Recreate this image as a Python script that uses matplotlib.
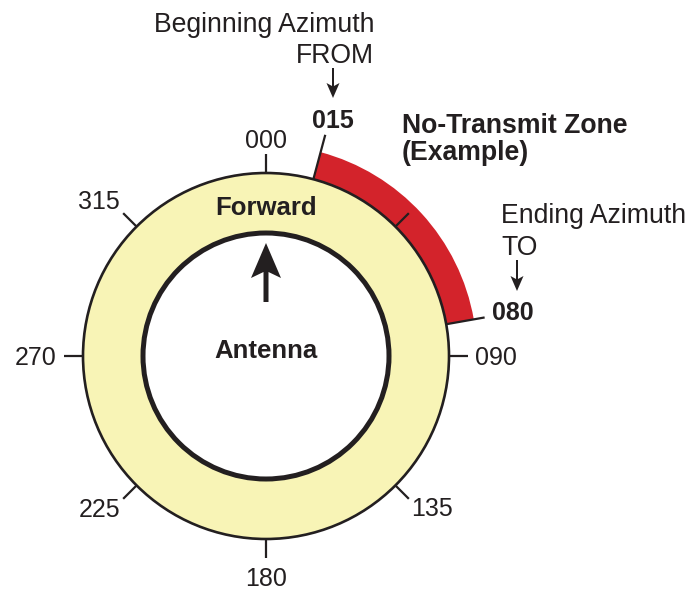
import numpy as np
import matplotlib
matplotlib.use("Agg")
import matplotlib.pyplot as plt
from matplotlib.patches import Circle, Wedge, Polygon

# ---- data ----
tick_azimuths = [0, 45, 90, 135, 180, 225, 270, 315]
tick_labels = ["000", "", "090", "135", "180", "225", "270", "315"]
zone_start = 15          # Beginning Azimuth FROM
zone_end = 80            # Ending Azimuth TO
zone_start_label = "015"
zone_end_label = "080"
zone_title = ["No-Transmit Zone", "(Example)"]
begin_text = ["Beginning Azimuth", "FROM"]
end_text = ["Ending Azimuth", "TO"]
ring_label = "Forward"
center_label = "Antenna"

# ---- style / layout ----
W, H = 687, 594
CX, CY = 266, 356
R_OUT, R_IN, R_ZONE = 183, 123, 211
YELLOW = "#F8F4B6"
RED = "#D3232B"
INK = "#231F20"
FONT = "Liberation Sans"
plt.rcParams['font.family'] = [FONT, 'DejaVu Sans']
# label centre distance from ring centre (horizontal, vertical) per tick
LABEL_R = {0: (0, 217), 90: (230, 0), 135: (235, 214), 180: (0, 221),
           225: (236, 215), 270: (230, 0), 315: (236, 221)}

fig = plt.figure(figsize=(W / 100, H / 100), dpi=100)
ax = fig.add_axes([0, 0, 1, 1])
ax.set_xlim(0, W)
ax.set_ylim(H, 0)
ax.set_aspect('equal')
ax.axis('off')


def pt(az, r):
    a = np.radians(az)
    return CX + r * np.sin(a), CY - r * np.cos(a)


def down_arrow(x, y0, y1, shaft, head_w, head_l, notch, z=5):
    """vertical arrow from y0 to tip y1 (in pixel coords, y grows downward)"""
    d = 1 if y1 > y0 else -1
    hb = y1 - d * head_l
    nb = y1 - d * (head_l - notch)
    poly = [(x - shaft / 2, y0), (x - shaft / 2, nb), (x - head_w / 2, hb),
            (x, y1), (x + head_w / 2, hb), (x + shaft / 2, nb), (x + shaft / 2, y0)]
    ax.add_patch(Polygon(poly, closed=True, facecolor=INK, edgecolor='none', zorder=z))


# red no-transmit band
ax.add_patch(Wedge((CX, CY), R_ZONE, zone_start - 90, zone_end - 90,
                   width=R_ZONE - R_OUT, facecolor=RED, edgecolor='none', zorder=1))
# yellow ring
ax.add_patch(Circle((CX, CY), R_OUT, facecolor=YELLOW, edgecolor=INK, lw=1.9, zorder=2))
ax.add_patch(Circle((CX, CY), R_IN, facecolor='white', edgecolor=INK, lw=3.6, zorder=3))

# ticks and labels
for az, lab in zip(tick_azimuths, tick_labels):
    x0, y0 = pt(az, R_OUT)
    x1, y1 = pt(az, R_OUT + 19)
    ax.plot([x0, x1], [y0, y1], color=INK, lw=1.6, solid_capstyle='butt', zorder=4)
    if lab:
        rx, ry = LABEL_R[az]
        a = np.radians(az)
        lx, ly = CX + rx * np.sin(a), CY - ry * np.cos(a)
        ax.text(lx, ly + 9, lab, ha='center', va='baseline', fontsize=18, color=INK)

# zone boundary ticks
for az, r_end in [(zone_start, 229), (zone_end, 222)]:
    x0, y0 = pt(az, R_OUT)
    x1, y1 = pt(az, r_end)
    ax.plot([x0, x1], [y0, y1], color=INK, lw=1.6, solid_capstyle='butt', zorder=4)

ax.text(333, 128, zone_start_label, ha='center', va='baseline', fontsize=18,
        fontweight='bold', color=INK)
ax.text(513, 320, zone_end_label, ha='center', va='baseline', fontsize=18,
        fontweight='bold', color=INK)

# zone title
ax.text(402, 133, zone_title[0], ha='left', va='baseline', fontsize=19.2,
        fontweight='bold', color=INK)
ax.text(402, 160, zone_title[1], ha='left', va='baseline', fontsize=19.2,
        fontweight='bold', color=INK)

# begin annotation
ax.text(374, 32, begin_text[0], ha='right', va='baseline', fontsize=19.2, color=INK)
ax.text(374, 63, begin_text[1], ha='right', va='baseline', fontsize=19.2, color=INK)
down_arrow(333, 68, 98, 2.0, 13, 15, 3)

# end annotation
ax.text(501, 223, end_text[0], ha='left', va='baseline', fontsize=19.2, color=INK)
ax.text(501, 255, end_text[1], ha='left', va='baseline', fontsize=19.2, color=INK)
down_arrow(517, 260, 291, 2.0, 13, 15, 3)

# forward arrow
down_arrow(CX, 302, 243, 5.0, 30, 35, 6)

ax.text(CX, 215, ring_label, ha='center', va='baseline', fontsize=18.5,
        fontweight='bold', color=INK, zorder=5)
ax.text(CX, 358, center_label, ha='center', va='baseline', fontsize=18.5,
        fontweight='bold', color=INK, zorder=5)

fig.savefig("out.png", dpi=100)
